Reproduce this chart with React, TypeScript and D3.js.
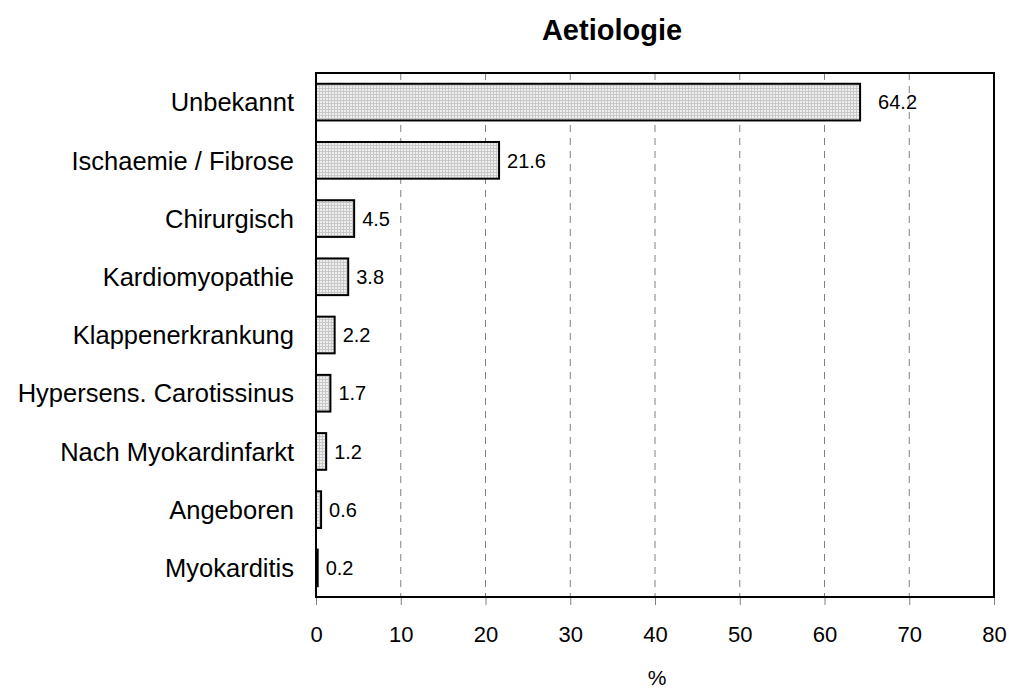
import { useEffect, useRef } from 'react';
import * as d3 from 'd3';

const categories = [
  'Unbekannt',
  'Ischaemie / Fibrose',
  'Chirurgisch',
  'Kardiomyopathie',
  'Klappenerkrankung',
  'Hypersens. Carotissinus',
  'Nach Myokardinfarkt',
  'Angeboren',
  'Myokarditis',
];
const values = [64.2, 21.6, 4.5, 3.8, 2.2, 1.7, 1.2, 0.6, 0.2];
const xTicks = [0, 10, 20, 30, 40, 50, 60, 70, 80];

const FONT = 'Liberation Sans, Arial, sans-serif';

const App = () => {
  const svgRef = useRef<SVGSVGElement>(null);

  useEffect(() => {
    if (!svgRef.current) return;
    const W = 1009;
    const H = 690;
    const margin = { top: 73, right: 15, bottom: 93, left: 316 };
    const width = W - margin.left - margin.right;
    const height = H - margin.top - margin.bottom;

    d3.select(svgRef.current).selectAll('*').remove();
    const root = d3.select(svgRef.current).attr('width', W).attr('height', H);

    // dotted fill like the original
    const pat = root.append('defs').append('pattern')
      .attr('id', 'dots')
      .attr('width', 3)
      .attr('height', 3)
      .attr('patternUnits', 'userSpaceOnUse');
    pat.append('rect').attr('width', 3).attr('height', 3).attr('fill', '#eeeeee');
    pat.append('rect').attr('width', 3).attr('height', 1).attr('fill', '#c8c8c8');
    pat.append('rect').attr('width', 1).attr('height', 3).attr('fill', '#c8c8c8');

    const svg = root.append('g').attr('transform', `translate(${margin.left},${margin.top})`);

    const x = d3.scaleLinear().domain([0, 80]).range([0, width]);
    const y = d3.scaleBand().domain(categories).range([0, height]).paddingInner(0.37).paddingOuter(0.185);

    svg.selectAll('line.grid')
      .data(xTicks.filter(t => t > 0 && t < 80))
      .enter()
      .append('line')
      .attr('x1', d => x(d))
      .attr('x2', d => x(d))
      .attr('y1', 0)
      .attr('y2', height)
      .attr('stroke', '#808080')
      .attr('stroke-width', 1)
      .attr('stroke-dasharray', '7,6');

    svg.selectAll('rect.bar')
      .data(values)
      .enter()
      .append('rect')
      .attr('x', 0)
      .attr('y', (d, i) => y(categories[i])!)
      .attr('width', d => x(d))
      .attr('height', y.bandwidth())
      .attr('fill', 'url(#dots)')
      .attr('stroke', '#000')
      .attr('stroke-width', 2);

    const maxVal = d3.max(values) || 0;
    svg.selectAll('text.val')
      .data(values)
      .enter()
      .append('text')
      .attr('x', d => x(d) + (d === maxVal ? 18 : 8))
      .attr('y', (d, i) => y(categories[i])! + y.bandwidth() / 2)
      .attr('dy', '0.36em')
      .style('font-family', FONT)
      .style('font-size', '20px')
      .text(d => d.toFixed(1));

    svg.append('rect')
      .attr('width', width)
      .attr('height', height)
      .attr('fill', 'none')
      .attr('stroke', '#000')
      .attr('stroke-width', 2);

    const xAxis = svg.append('g')
      .attr('transform', `translate(0,${height})`)
      .call(d3.axisBottom(x).tickValues(xTicks).tickSize(7).tickPadding(22).tickFormat(d3.format('d')));
    xAxis.select('.domain').remove();
    xAxis.selectAll('line').attr('stroke', '#808080').attr('transform', 'translate(0,1)');
    xAxis.selectAll('text')
      .style('font-family', FONT)
      .style('font-size', '22px')
      .attr('fill', '#000');

    svg.selectAll('text.cat')
      .data(categories)
      .enter()
      .append('text')
      .attr('x', -22)
      .attr('y', d => y(d)! + y.bandwidth() / 2)
      .attr('dy', '0.36em')
      .attr('text-anchor', 'end')
      .style('font-family', FONT)
      .style('font-size', '25.5px')
      .text(d => d);

    root.append('text')
      .attr('x', 612)
      .attr('y', 40)
      .attr('text-anchor', 'middle')
      .style('font-family', FONT)
      .style('font-size', '29px')
      .style('font-weight', 'bold')
      .text('Aetiologie');

    root.append('text')
      .attr('x', 657)
      .attr('y', 685)
      .attr('text-anchor', 'middle')
      .style('font-family', FONT)
      .style('font-size', '21px')
      .text('%');
  }, []);

  return (
    <div style={{ position: 'absolute', left: 0, top: 0 }}>
      <svg ref={svgRef}></svg>
    </div>
  );
};

export default App;
